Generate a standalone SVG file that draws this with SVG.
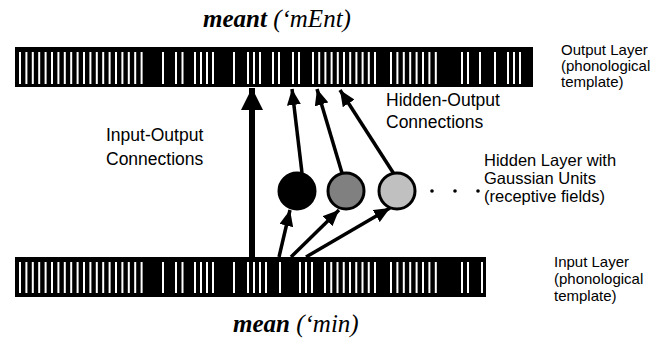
<svg xmlns="http://www.w3.org/2000/svg" width="655" height="339" viewBox="0 0 655 339">
  <style>
    .bar { fill: #000; }
    .slots { stroke: #fff; stroke-width: 2; fill: none; }
    .word { font-family: "Liberation Serif", "Times New Roman", serif; font-size: 25px; font-style: italic; fill: #000; }
    .word .w { font-weight: bold; }
    .lbl { font-family: "Liberation Sans", Arial, sans-serif; font-size: 17.5px; fill: #000; }
    .side { font-family: "Liberation Sans", Arial, sans-serif; font-size: 15px; fill: #000; }
    .hid { font-family: "Liberation Sans", Arial, sans-serif; font-size: 16.5px; fill: #000; }
    .unit { stroke: #000; stroke-width: 3; }
    .conn { stroke: #000; stroke-width: 3.5; fill: none; marker-end: url(#head); }
    .main { stroke: #000; stroke-width: 6; fill: none; marker-end: url(#bighead); }
  </style>
  <defs>
    <marker id="head" viewBox="0 0 16 14" refX="16" refY="7" markerWidth="16" markerHeight="14" markerUnits="userSpaceOnUse" orient="auto">
      <path d="M0,0 L16,7 L0,14 Z" fill="#000"/>
    </marker>
    <marker id="bighead" viewBox="0 0 22 22" refX="22" refY="11" markerWidth="22" markerHeight="22" markerUnits="userSpaceOnUse" orient="auto">
      <path d="M0,0 L22,11 L0,22 Z" fill="#000"/>
    </marker>
  </defs>

  <!-- output layer: phonological template -->
  <g id="output-layer">
    <rect class="bar" x="15" y="47" width="518" height="40"/>
    <path class="slots" d="M20 52V84M26.4 52V84M32.8 52V84M39.2 52V84M45.6 52V84M52 52V84M58.4 52V84M64.8 52V84M71.2 52V84M77.6 52V84M84 52V84M90.4 52V84M96.8 52V84M103.2 52V84M109.6 52V84M116 52V84M122.4 52V84M128.8 52V84M135.2 52V84M141.6 52V84
      M163 52V84M176 52V84M182.5 52V84M195 52V84M201 52V84M207 52V84M213 52V84M234 52V84M248 52V84M254 52V84M260 52V84M273 52V84M279 52V84M293 52V84M299 52V84
      M313 52V84M319.2 52V84M325.4 52V84M331.6 52V84M337.8 52V84M344 52V84M350.2 52V84M356.4 52V84M362.6 52V84M368.8 52V84M375 52V84
      M391 52V84M397.4 52V84M403.8 52V84M410.2 52V84M416.6 52V84M423 52V84M429.4 52V84M435.8 52V84
      M462 52V84M468 52V84M480 52V84M495 52V84M508 52V84M514 52V84M520 52V84"/>
    <text class="word" x="203" y="27"><tspan class="w">meant</tspan> (‘mEnt)</text>
    <text class="side" x="561" y="55">Output Layer</text>
    <text class="side" x="561" y="71">(phonological</text>
    <text class="side" x="561" y="87">template)</text>
  </g>

  <!-- input layer: phonological template -->
  <g id="input-layer">
    <rect class="bar" x="15" y="257" width="471" height="40"/>
    <path class="slots" d="M20 262V293M26.4 262V293M32.8 262V293M39.2 262V293M45.6 262V293M52 262V293M58.4 262V293M64.8 262V293M71.2 262V293M77.6 262V293M84 262V293M90.4 262V293M96.8 262V293M103.2 262V293M109.6 262V293M116 262V293M122.4 262V293M128.8 262V293M135.2 262V293M141.6 262V293
      M163 262V293M176 262V293M182.5 262V293M195 262V293M201 262V293M207 262V293M213 262V293M234 262V293M248 262V293M254 262V293M260 262V293M266 262V293M280 262V293
      M300 262V293M306 262V293M312 262V293
      M325 262V293M331.25 262V293M337.5 262V293M343.75 262V293M350 262V293M356.25 262V293M362.5 262V293M368.75 262V293M375 262V293
      M391 262V293M397.4 262V293M403.8 262V293M410.2 262V293M416.6 262V293M423 262V293M429.4 262V293M435.8 262V293
      M462 262V293M468 262V293M482 262V293"/>
    <text class="word" x="233" y="332"><tspan class="w">mean</tspan> (‘min)</text>
    <text class="side" x="554" y="267">Input Layer</text>
    <text class="side" x="554" y="284">(phonological</text>
    <text class="side" x="554" y="301">template)</text>
  </g>

  <!-- hidden layer: Gaussian units -->
  <g id="hidden-1"><circle class="unit" cx="297" cy="191" r="18" fill="#000"/></g>
  <g id="hidden-2"><circle class="unit" cx="346" cy="191" r="18" fill="#808080"/></g>
  <g id="hidden-3"><circle class="unit" cx="397" cy="191" r="18" fill="#c0c0c0"/></g>
  <g id="hidden-more">
    <circle cx="432" cy="191" r="1.8" fill="#000"/>
    <circle cx="455" cy="191" r="1.8" fill="#000"/>
    <circle cx="478" cy="191" r="1.8" fill="#000"/>
  </g>
  <g id="hidden-label">
    <text class="hid" x="484" y="166">Hidden Layer with</text>
    <text class="hid" x="484" y="184">Gaussian Units</text>
    <text class="hid" x="484" y="202">(receptive fields)</text>
  </g>

  <!-- connection labels -->
  <g id="io-label">
    <text class="lbl" x="106" y="141">Input-Output</text>
    <text class="lbl" x="106" y="165">Connections</text>
  </g>
  <g id="ho-label">
    <text class="lbl" x="386" y="106">Hidden-Output</text>
    <text class="lbl" x="386" y="128">Connections</text>
  </g>

  <!-- connectors -->
  <g id="connectors">
    <path class="main" d="M252 257V88"/>
    <path class="conn" d="M302 173L292 89"/>
    <path class="conn" d="M342 173L317 89"/>
    <path class="conn" d="M394 174L340 90"/>
    <path class="conn" d="M279 257L290 210"/>
    <path class="conn" d="M291 257L339 210"/>
    <path class="conn" d="M306 257L390 208"/>
  </g>
</svg>
